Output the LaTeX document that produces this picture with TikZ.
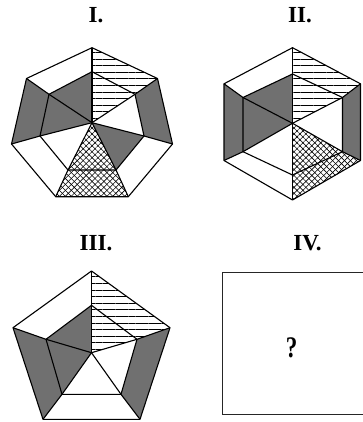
\documentclass[tikz,border=0pt]{standalone}
\usepackage{fontspec}
\setmainfont{Liberation Serif}
\usetikzlibrary{patterns.meta}
\definecolor{shade}{RGB}{112,112,112}
\begin{document}
\begin{tikzpicture}[x=1pt,y=-1pt,
  edge/.style={line width=1.1pt, line join=round},
  grayfill/.style={fill=shade},
  hatchfill/.style={pattern={Lines[angle=0,distance=6.6pt,line width=0.7pt]}},
  xa/.style={pattern={Lines[angle=45,distance=4.2pt,line width=0.6pt]}},
  xb/.style={pattern={Lines[angle=-45,distance=4.2pt,line width=0.6pt]}},
  lbl/.style={font=\fontsize{23}{23}\selectfont\bfseries, inner sep=0pt, anchor=base}]
\useasboundingbox (0,0) rectangle (362,422);

% ---------- labels ----------
\node[lbl] (l1) at (96,22.5) {I.};
\node[lbl] (l2) at (300,23) {II.};
\node[lbl] (l3) at (96,250) {III.};
\node[lbl] (l4) at (307.5,250) {IV.};

% ---------- Figure I (heptagon) ----------
\coordinate (AT) at (92,47.7);
\coordinate (AUR) at (157.5,78.5);
\coordinate (AR) at (172.5,144);
\coordinate (ALR) at (128.3,196.7);
\coordinate (ALL) at (55.7,196.7);
\coordinate (AL) at (11.5,144);
\coordinate (AUL) at (26.5,78.5);
\coordinate (iAT) at (92,71.7);
\coordinate (iAUR) at (135,94.3);
\coordinate (iAR) at (144,136);
\coordinate (iALR) at (116,170);
\coordinate (iALL) at (68,170);
\coordinate (iAL) at (40,136);
\coordinate (iAUL) at (49,94.3);
\coordinate (cA) at (92,122.7);

\fill[hatchfill] (AT) -- (AUR) -- (iAUR) -- (cA) -- cycle;
\fill[grayfill] (AUR) -- (AR) -- (iAR) -- (iAUR) -- cycle;
\fill[grayfill] (AL) -- (AUL) -- (iAUL) -- (iAL) -- cycle;
\fill[grayfill] (cA) -- (iAL) -- (iAUL) -- (iAT) -- cycle;
\fill[grayfill] (cA) -- (iAR) -- (iALR) -- cycle;
\fill[xa] (ALL) -- (ALR) -- (iALR) -- (cA) -- (iALL) -- cycle;
\fill[xb] (ALL) -- (ALR) -- (iALR) -- (cA) -- (iALL) -- cycle;

\draw[edge] (AT) -- (AUR) -- (AR) -- (ALR) -- (ALL) -- (AL) -- (AUL) -- cycle;
\draw[edge] (iAT) -- (iAUR) -- (iAR) -- (iALR) -- (iALL) -- (iAL) -- (iAUL) -- cycle;
\foreach \p in {AT,AUR,AR,ALR,ALL,AL,AUL} {
  \draw[edge] (\p) -- (i\p);
  \draw[edge] (cA) -- (i\p);
}

% ---------- Figure II (hexagon) ----------
\coordinate (BT) at (292.5,47.7);
\coordinate (BUR) at (360.5,83.8);
\coordinate (BLR) at (360.5,160.5);
\coordinate (BB) at (292.5,200);
\coordinate (BLL) at (224,160.5);
\coordinate (BUL) at (224,83.8);
\coordinate (iBT) at (292.5,74);
\coordinate (iBUR) at (342.5,97.5);
\coordinate (iBLR) at (342.5,151.7);
\coordinate (iBB) at (292.5,175);
\coordinate (iBLL) at (243,151.7);
\coordinate (iBUL) at (243,97.5);
\coordinate (cB) at (292.5,123.3);

\fill[hatchfill] (BT) -- (BUR) -- (iBUR) -- (cB) -- cycle;
\fill[grayfill] (BUR) -- (BLR) -- (iBLR) -- (iBUR) -- cycle;
\fill[grayfill] (BLL) -- (BUL) -- (iBUL) -- (iBLL) -- cycle;
\fill[grayfill] (cB) -- (iBLL) -- (iBUL) -- (iBT) -- cycle;
\fill[xa] (cB) -- (iBLR) -- (BLR) -- (BB) -- cycle;
\fill[xb] (cB) -- (iBLR) -- (BLR) -- (BB) -- cycle;

\draw[edge] (BT) -- (BUR) -- (BLR) -- (BB) -- (BLL) -- (BUL) -- cycle;
\draw[edge] (iBT) -- (iBUR) -- (iBLR) -- (iBB) -- (iBLL) -- (iBUL) -- cycle;
\foreach \p in {BT,BUR,BLR,BB,BLL,BUL} {
  \draw[edge] (\p) -- (i\p);
  \draw[edge] (cB) -- (i\p);
}

% ---------- Figure III (pentagon) ----------
\coordinate (CT) at (91.5,271);
\coordinate (CR) at (170,327.7);
\coordinate (CLR) at (140,419.3);
\coordinate (CLL) at (43,419.3);
\coordinate (CL) at (13,327.7);
\coordinate (iCT) at (91.5,305.3);
\coordinate (iCR) at (137,339.3);
\coordinate (iCLR) at (121,394.3);
\coordinate (iCLL) at (62,394.3);
\coordinate (iCL) at (46,339.3);
\coordinate (cC) at (91.5,352.7);

\fill[hatchfill] (CT) -- (CR) -- (iCR) -- (cC) -- cycle;
\fill[grayfill] (CR) -- (CLR) -- (iCLR) -- (iCR) -- cycle;
\fill[grayfill] (CLL) -- (CL) -- (iCL) -- (iCLL) -- cycle;
\fill[grayfill] (cC) -- (iCLL) -- (iCL) -- (iCT) -- cycle;

\draw[edge] (CT) -- (CR) -- (CLR) -- (CLL) -- (CL) -- cycle;
\draw[edge] (iCT) -- (iCR) -- (iCLR) -- (iCLL) -- (iCL) -- cycle;
\foreach \p in {CT,CR,CLR,CLL,CL} {
  \draw[edge] (\p) -- (i\p);
  \draw[edge] (cC) -- (i\p);
}

% ---------- Figure IV (box) ----------
\node[draw=black!85, line width=1.1pt, minimum width=143pt, minimum height=142pt,
      anchor=north west, inner sep=0pt] (box) at (221.5,271.5) {};
\node[inner sep=0pt, font=\fontsize{23}{23}\selectfont\bfseries] (q) at (291.5,348) {\scalebox{1}[1.3]{?}};
\end{tikzpicture}
\end{document}
